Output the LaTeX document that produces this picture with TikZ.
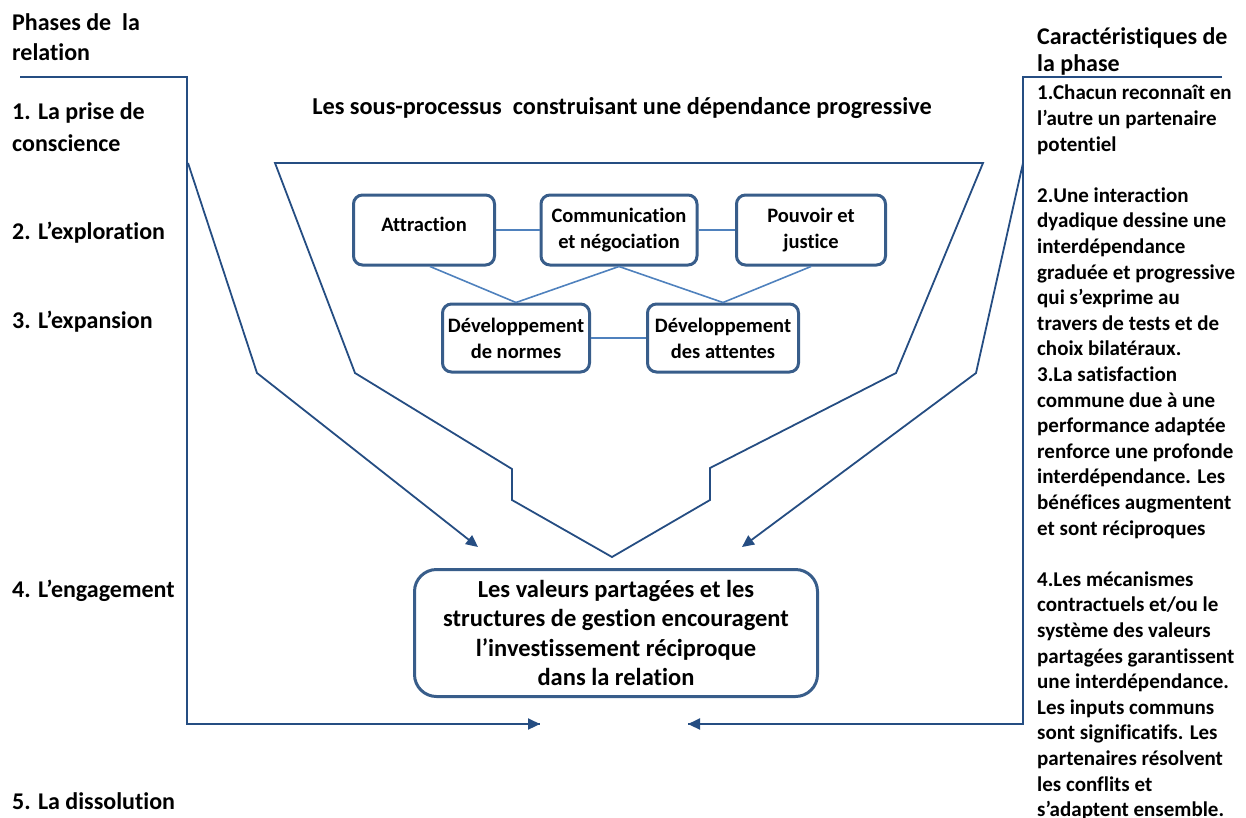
\documentclass[tikz,border=0pt]{standalone}
\usepackage{fontspec}
\setmainfont{Carlito}[Ligatures={NoCommon}]
\usetikzlibrary{arrows.meta}
\definecolor{navy}{RGB}{37,77,130}
\definecolor{boxblue}{RGB}{56,93,138}
\definecolor{linkblue}{RGB}{79,129,189}
\tikzset{
  lbl/.style={anchor=west,inner sep=0pt,font=\bfseries\fontsize{24}{30}\selectfont},
  proc/.style={draw=boxblue,line width=3pt,rounded corners=9pt,fill=white,align=center,inner sep=0pt,font=\bfseries\fontsize{20.5}{26}\selectfont},
  link/.style={draw=linkblue,line width=1.6pt},
  flow/.style={draw=navy,line width=1.8pt},
  arr/.style={flow,-{Triangle[length=12pt,width=11pt]}},
}
\begin{document}
\begin{tikzpicture}[x=1pt,y=-1pt]
\useasboundingbox (0,0) rectangle (1246,817);
% left labels
\node[lbl] (t1) at (12,22) {Phases de\ \ la};
\node[lbl] (t2) at (12,52) {relation};
\node[lbl] (p1a) at (12,113) {1. La prise de};
\node[lbl] (p1b) at (12,143) {conscience};
\node[lbl] (p2) at (12,233) {2. L’exploration};
\node[lbl] (p3) at (12,322) {3. L’expansion};
\node[lbl] (p4) at (12,591) {4. L’engagement};
\node[lbl] (p5) at (12,801) {5. La dissolution};
% right heading
\node[lbl] (r1) at (1037,38) {Caractéristiques de};
\node[lbl] (r2) at (1037,65) {la phase};
\node[anchor=north west,inner sep=0pt,align=left,font=\bfseries\fontsize{21}{25.6}\selectfont] (rc) at (1037,85) {1.Chacun reconnaît en\\
l’autre un partenaire\\
potentiel\\
\mbox{}\\
2.Une interaction\\
dyadique dessine une\\
interdépendance\\
graduée et progressive\\
qui s’exprime au\\
travers de tests et de\\
choix bilatéraux.\\
3.La satisfaction\\
commune due à une\\
performance adaptée\\
renforce une profonde\\
interdépendance. Les\\
bénéfices augmentent\\
et sont réciproques\\
\mbox{}\\
4.Les mécanismes\\
contractuels et/ou le\\
système des valeurs\\
partagées garantissent\\
une interdépendance.\\
Les inputs communs\\
sont significatifs. Les\\
partenaires résolvent\\
les conflits et\\
s’adaptent ensemble.};
% centre title
\node[inner sep=0pt,font=\bfseries\fontsize{24.3}{28}\selectfont] (title) at (622,108) {Les sous-processus\ \ construisant une dépendance progressive};
% brackets
\coordinate (la) at (540,724);
\coordinate (ra) at (688,724);
\draw[flow,line width=2.2pt] (20,77) -- (187,77) -- (187,724) -- (la);
\draw[arr,line width=2.2pt] (187,724) -- (la);
\draw[flow,line width=2.2pt] (1222,77) -- (1023,77) -- (1023,724) -- (ra);
\draw[arr,line width=2.2pt] (1023,724) -- (ra);
% funnel
\draw[flow,line join=miter] (275,163) -- (983,163) -- (896,373) -- (710,468) -- (710,500) -- (612,557) -- (512,500) -- (512,469) -- (355,373) -- cycle;
% outer arrows
\coordinate (lt) at (478,547);
\coordinate (rt) at (742,547);
\draw[arr] (188,163) -- (257,373) -- (lt);
\draw[arr] (1023,163) -- (976,373) -- (rt);
% process boxes
\node[proc,minimum width=141pt,minimum height=70pt] (attr) at (424,230) {\raisebox{11pt}{Attraction}};
\node[proc,minimum width=156pt,minimum height=70pt] (comm) at (619,230) {Communication\\et négociation};
\node[proc,minimum width=149pt,minimum height=70pt] (pouv) at (811,230) {Pouvoir et\\justice};
\node[proc,minimum width=147pt,minimum height=68pt] (norm) at (516,338) {Développement\\de normes};
\node[proc,minimum width=151pt,minimum height=68pt] (att) at (723,338) {Développement\\des attentes};
\draw[link] (attr) -- (comm);
\draw[link] (comm) -- (pouv);
\draw[link] ([xshift=6pt]attr.south) -- (norm.north);
\draw[link] (comm.south) -- (norm.north);
\draw[link] (comm.south) -- (att.north);
\draw[link] (pouv.south) -- (att.north);
\draw[link] (norm) -- (att);
% main box
\node[proc,rounded corners=22pt,minimum width=403pt,minimum height=127pt,font=\bfseries\fontsize{24.5}{29.3}\selectfont] (main) at (616,633) {Les valeurs partagées et les\\structures de gestion encouragent\\l’investissement réciproque\\dans la relation};
\end{tikzpicture}
\end{document}
